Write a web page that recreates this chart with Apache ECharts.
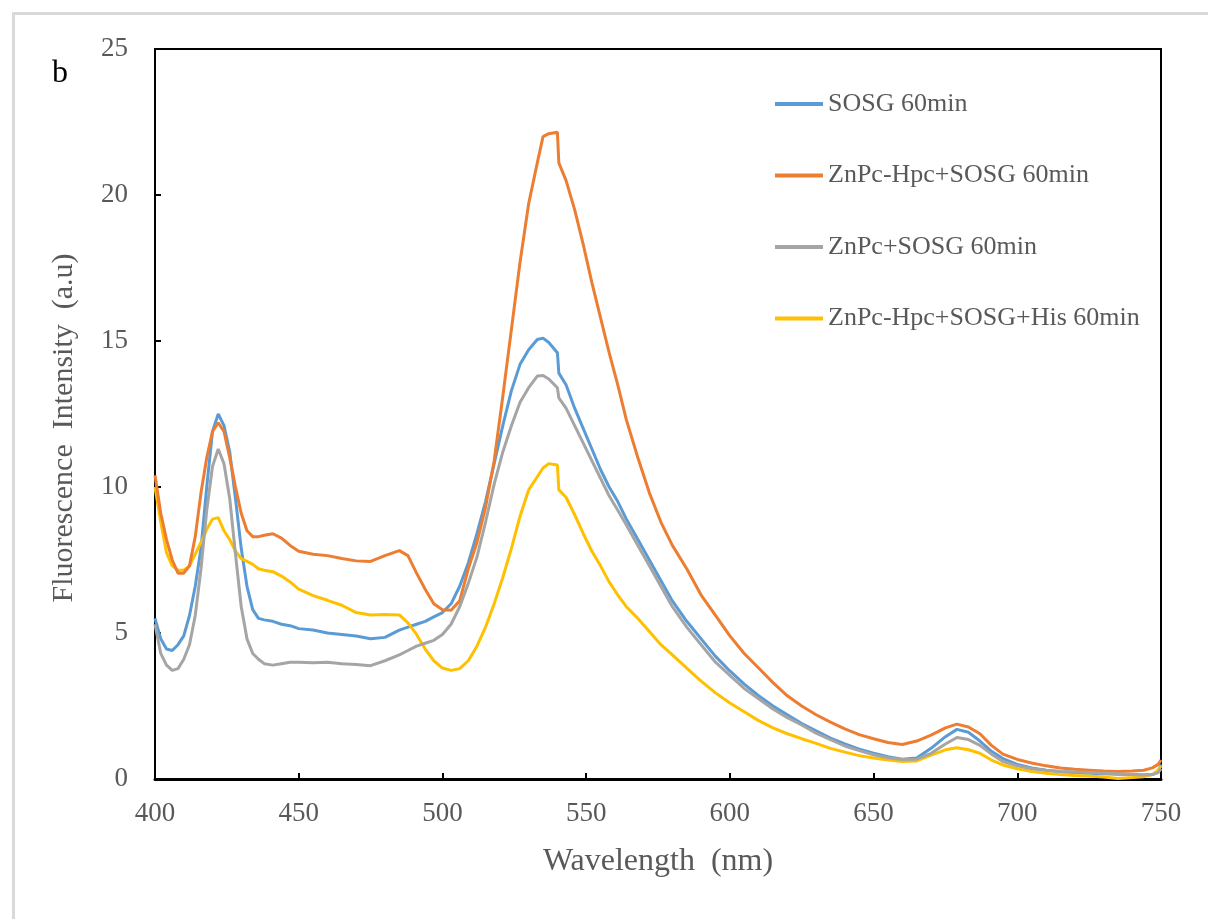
<!DOCTYPE html>
<html>
<head>
<meta charset="utf-8">
<script src="https://cdn.jsdelivr.net/npm/echarts@6/dist/echarts.min.js"></script>
<style>
html,body{margin:0;padding:0;background:#fff;}
#chart{width:1208px;height:919px;}
</style>
</head>
<body>
<div id="chart"></div>
<script>
// Wavelength grid (nm)
const wavelengths = [
  400,402,404,406,408,410,412,414,416,418,420,422,424,426,428,430,432,434,436,438,
  441,444,447,450,455,460,465,470,475,480,485,488,491,494,497,
  500,503,506,509,512,515,518,521,524,527,530,533,535,537,540,540.5,
  543,546,549,552,555,558,561,564,568,572,576,580,
  585,590,595,600,605,610,615,620,625,630,635,640,645,650,655,660,665,670,675,
  679,683,687,691,695,700,705,710,715,720,725,730,735,740,744,747,749,750
];

const seriesNames = [
  'SOSG 60min',
  'ZnPc-Hpc+SOSG 60min',
  'ZnPc+SOSG 60min',
  'ZnPc-Hpc+SOSG+His 60min'
];

const sosg = [
  5.5,4.8,4.45,4.4,4.6,4.9,5.6,6.6,7.9,10.0,11.9,12.5,12.1,11.2,9.6,7.9,6.6,5.8,5.5,5.45,
  5.4,5.3,5.25,5.15,5.1,5.0,4.95,4.9,4.8,4.85,5.1,5.2,5.3,5.4,5.55,
  5.7,6.0,6.6,7.4,8.4,9.5,10.8,12.1,13.3,14.2,14.7,15.05,15.1,14.95,14.6,13.9,
  13.5,12.7,12.0,11.3,10.6,10.0,9.5,8.9,8.2,7.5,6.8,6.1,
  5.4,4.8,4.2,3.7,3.25,2.85,2.5,2.2,1.9,1.65,1.4,1.2,1.02,0.88,0.76,0.68,0.72,1.05,1.45,
  1.7,1.6,1.3,0.95,0.7,0.5,0.38,0.3,0.25,0.22,0.2,0.18,0.16,0.15,0.14,0.15,0.25,0.5
];

const znpcHpcSosg = [
  10.4,9.1,8.2,7.5,7.05,7.05,7.3,8.3,9.8,11.0,11.9,12.2,11.9,11.0,10.0,9.1,8.5,8.3,8.3,8.35,
  8.4,8.25,8.0,7.8,7.7,7.65,7.55,7.47,7.45,7.65,7.82,7.65,7.05,6.5,6.0,
  5.8,5.78,6.1,7.2,8.1,9.3,10.9,13.1,15.4,17.7,19.7,21.1,22.0,22.1,22.15,21.1,
  20.5,19.5,18.3,17.0,15.8,14.6,13.5,12.3,11.0,9.8,8.8,8.0,
  7.2,6.3,5.6,4.9,4.3,3.8,3.3,2.85,2.5,2.2,1.95,1.72,1.52,1.38,1.25,1.18,1.3,1.5,1.75,
  1.88,1.78,1.55,1.15,0.85,0.67,0.55,0.45,0.38,0.33,0.3,0.27,0.26,0.27,0.3,0.38,0.5,0.65
];

const znpcSosg = [
  5.3,4.3,3.9,3.72,3.78,4.1,4.6,5.6,7.2,9.2,10.7,11.3,10.8,9.6,7.7,5.9,4.8,4.3,4.1,3.95,
  3.9,3.95,4.0,4.0,3.98,4.0,3.95,3.92,3.88,4.05,4.25,4.4,4.55,4.65,4.75,
  4.95,5.3,5.9,6.7,7.6,8.8,10.1,11.2,12.1,12.9,13.4,13.8,13.82,13.7,13.4,13.05,
  12.7,12.1,11.5,10.9,10.3,9.7,9.2,8.7,8.0,7.3,6.6,5.9,
  5.2,4.6,4.0,3.55,3.1,2.75,2.4,2.1,1.85,1.57,1.35,1.13,0.97,0.83,0.73,0.67,0.68,0.88,1.2,
  1.42,1.35,1.15,0.85,0.6,0.45,0.35,0.3,0.26,0.24,0.22,0.2,0.18,0.15,0.14,0.15,0.22,0.35
];

const znpcHpcSosgHis = [
  10.0,8.8,7.75,7.3,7.15,7.15,7.3,7.7,8.1,8.55,8.9,8.95,8.5,8.2,7.8,7.55,7.45,7.35,7.2,7.15,
  7.1,6.95,6.75,6.5,6.28,6.12,5.95,5.7,5.62,5.63,5.62,5.35,4.95,4.45,4.05,
  3.8,3.72,3.78,4.05,4.55,5.2,6.0,6.9,7.9,9.0,9.9,10.35,10.65,10.8,10.75,9.9,
  9.65,9.05,8.4,7.8,7.3,6.75,6.3,5.9,5.5,5.05,4.6,4.25,
  3.8,3.35,2.95,2.6,2.3,2.0,1.75,1.55,1.38,1.22,1.05,0.92,0.8,0.72,0.65,0.6,0.62,0.82,1.0,
  1.07,1.0,0.88,0.65,0.48,0.35,0.26,0.2,0.15,0.12,0.1,0.07,0.02,0.05,0.08,0.15,0.3,0.45
];

const xTicks = [400,450,500,550,600,650,700,750];
const yTicks = [0,5,10,15,20,25];

const colors = ['#5B9BD5','#ED7D31','#A5A5A5','#FFC000'];
const allValues = [sosg, znpcHpcSosg, znpcSosg, znpcHpcSosgHis];

function pairs(vals){ return wavelengths.map((w,i)=>[w, vals[i]]); }

const chart = echarts.init(document.getElementById('chart'), null, {renderer:'canvas'});
const FONT = '"Liberation Serif","Times New Roman",serif';

chart.setOption({
  animation: false,
  backgroundColor: '#fff',
  color: colors,
  grid: {left:155, right:47, top:49, bottom:140, show:true, borderColor:'#000', borderWidth:2, backgroundColor:'transparent'},
  graphic: [
    {type:'rect', left:11, top:11, shape:{width:1400, height:1100}, style:{fill:'none', stroke:'#d9d9d9', lineWidth:3}, z:-10, silent:true},
    {type:'text', left:52, top:58, style:{text:'b', font:'32px ' + FONT, fill:'#000'}}
  ],
  legend: {
    orient:'vertical', left:770, top:84, itemWidth:48, itemHeight:4, itemGap:41.5, itemTextGap:6,
    icon:'rect',
    textStyle:{fontFamily:FONT, fontSize:26, color:'#595959', lineHeight:30, padding:[0,0,0,0]},
    data: seriesNames
  },
  xAxis: {
    type:'value', min:xTicks[0], max:xTicks[xTicks.length-1], interval:50,
    name:'Wavelength  (nm)', nameLocation:'middle', nameGap:67,
    nameTextStyle:{fontFamily:FONT, fontSize:32, color:'#595959'},
    axisLine:{show:true, lineStyle:{color:'#000', width:3}},
    axisTick:{show:true, inside:true, length:6, lineStyle:{color:'#000', width:2}},
    axisLabel:{fontFamily:FONT, fontSize:27, color:'#595959', margin:21},
    splitLine:{show:false}
  },
  yAxis: {
    type:'value', min:yTicks[0], max:yTicks[yTicks.length-1], interval:5,
    name:'Fluorescence  Intensity  (a.u)', nameLocation:'middle', nameGap:76,
    nameTextStyle:{fontFamily:FONT, fontSize:30, color:'#595959', padding:[0,28,0,0]},
    axisLine:{show:true, lineStyle:{color:'#000', width:2}},
    axisTick:{show:true, inside:true, length:6, lineStyle:{color:'#000', width:2}},
    axisLabel:{fontFamily:FONT, fontSize:27, color:'#595959', margin:27},
    splitLine:{show:false}
  },
  series: seriesNames.map((n,i)=>({
    name:n, type:'line', data:pairs(allValues[i]), showSymbol:false, symbol:'none',
    lineStyle:{width:3, color:colors[i]}, itemStyle:{color:colors[i]}, z:2+(i===3?0:i)
  }))
});
</script>
</body>
</html>
